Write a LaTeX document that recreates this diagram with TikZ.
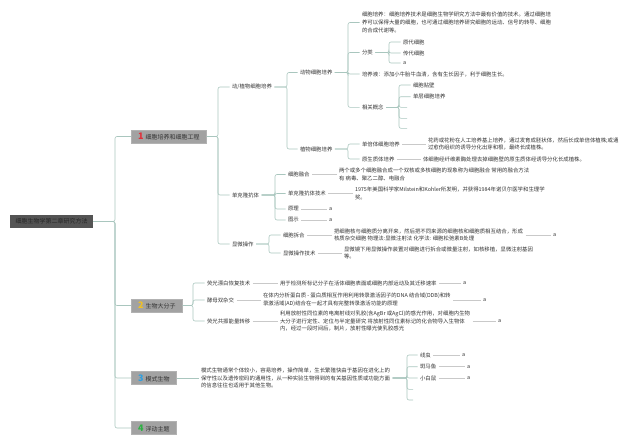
\documentclass[tikz,border=0pt]{standalone}
\usepackage{fontspec}
\setmainfont{Noto Sans CJK SC}
\definecolor{rootgray}{HTML}{545454}
\definecolor{topicgray}{HTML}{A2A2A2}
\definecolor{linkcol}{HTML}{A9C6BE}
\definecolor{tailcol}{HTML}{C9C9C9}
\definecolor{txtcol}{HTML}{333333}
\definecolor{numred}{HTML}{E0303A}
\definecolor{numyellow}{HTML}{F2C121}
\definecolor{numblue}{HTML}{2F9FE0}
\definecolor{numgreen}{HTML}{2DB043}
\newcommand\topicnum[2]{{\fontsize{9}{9}\selectfont\bfseries\color{#1}#2}\hspace{2pt}}
\newcommand\fork[3]{\foreach \c in {#3} \draw[link] (#1.east) -- (#1.east -| #2) |- (\c.west);}
\begin{document}
\begin{tikzpicture}[x=1pt,y=-1pt,
  root/.style={fill=rootgray,text=black!85,font=\fontsize{6}{7}\selectfont,inner xsep=5.5pt,minimum height=13pt,anchor=west},
  topic/.style={fill=topicgray,draw=black!30,line width=0.4pt,text=txtcol,font=\fontsize{6}{7}\selectfont,inner xsep=7pt,inner ysep=0pt,minimum height=13pt,anchor=west},
  leaf/.style={text=txtcol,font=\fontsize{5.4}{7.6}\selectfont,inner sep=0.5pt,outer sep=2pt,anchor=west,align=left},
  link/.style={draw=linkcol,line width=0.6pt,rounded corners=2pt},
  tail/.style={draw=tailcol,line width=0.6pt}]
\useasboundingbox (0,0) rectangle (640,444);
% spines
\coordinate (trunk) at (115,0);
\coordinate (s1) at (218,0);
\coordinate (s11) at (287,0);
\coordinate (s111) at (348,0);
\coordinate (s1111) at (389,0);
\coordinate (s1112) at (399,0);
\coordinate (s112) at (348,0);
\coordinate (s12) at (275,0);
\coordinate (s13) at (269,0);
\coordinate (s2) at (193,0);
\coordinate (s3) at (407,0);
% root and topics
\node[root] (root) at (10,221.5) {细胞生物学第二章研究方法};
\node[topic] (t1) at (131,136.5) {\topicnum{numred}{1}细胞培养和细胞工程};
\node[topic] (t2) at (131,305.5) {\topicnum{numyellow}{2}生物大分子};
\node[topic] (t3) at (131,378) {\topicnum{numblue}{3}模式生物};
\node[topic] (t4) at (131,428) {\topicnum{numgreen}{4}浮动主题};
% topic 1
\node[leaf] (dzp) at (229.5,87) {动/植物细胞培养};
\node[leaf] (dkl) at (229.5,195) {单克隆抗体};
\node[leaf] (xwcz) at (229.5,244) {显微操作};
\node[leaf] (dw) at (297.5,72.5) {动物细胞培养};
\node[leaf] (zw) at (297.5,149) {植物细胞培养};
\node[leaf] (xbpy) at (359.5,22.5) {细胞培养：细胞培养技术是细胞生物学研究方法中最有价值的技术。通过细胞培\\养可以保得大量的细胞，也可通过细胞培养研究细胞的运动、信号的转导、细胞\\的合成代谢等。};
\node[leaf] (fl) at (359.5,52.5) {分类};
\node[leaf] (pyy) at (359.5,74) {培养液：添加小牛胎牛血清，含有生长因子，利于细胞生长。};
\node[leaf] (xggn) at (359.5,107.3) {相关概念};
\node[leaf] (ydxb) at (400.5,42) {原代细胞};
\node[leaf] (cdxb) at (400.5,53) {传代细胞};
\node[leaf] (fla) at (400.5,63) {a};
\node[leaf] (xbtb) at (410.5,85) {细胞贴壁};
\node[leaf] (dcxb) at (410.5,96.7) {单层细胞培养};
\node[leaf] (xgk1) at (407,107.3) {};
\node[leaf] (xgk2) at (407,118.3) {};
\node[leaf] (xgk3) at (407,128.3) {};
\node[leaf] (dbt) at (359.5,144) {单倍体细胞培养};
\node[leaf] (ysz) at (359.5,159) {原生质体培养};
\node[leaf] (dbtp) at (425.5,144) {花药或花粉在人工培养基上培养，通过发育成胚状体，然后长成单倍体植株;或通\\过愈伤组织的诱导分化出芽和根，最终长成植株。};
\node[leaf] (yszp) at (420.5,159) {体细胞经纤维素酶处理去掉细胞壁的原生质体经诱导分化长成植株。};
\node[leaf] (xbrh) at (285.5,174.5) {细胞融合};
\node[leaf] (dkljs) at (285.5,193.5) {单克隆抗体技术};
\node[leaf] (yl) at (285.5,209) {原理};
\node[leaf] (ts) at (285.5,220) {图示};
\node[leaf] (xbrhp) at (336.5,174.5) {两个或多个细胞融合成一个双核或多核细胞的现象称为细胞融合 常用的融合方法\\有 病毒、聚乙二醇、电融合};
\node[leaf] (dkljsp) at (352.5,193.5) {1975年美国科学家Milstein和Kohler所发明，并获得1984年诺贝尔医学和生理学\\奖。};
\node[leaf] (yla) at (326.5,209) {a};
\node[leaf] (tsa) at (326.5,220) {a};
\node[leaf] (xbch) at (280.5,235) {细胞拆合};
\node[leaf] (xwczjs) at (280.5,253) {显微操作技术};
\node[leaf] (xbchp) at (331.5,235) {把细胞核与细胞质分离开来，然后把不同来源的细胞核和细胞质相互结合，形成\\核质杂交细胞 物理法:显微注射法 化学法: 细胞松弛素B处理};
\node[leaf] (xbcha) at (550.5,235) {a};
\node[leaf] (xwczjsp) at (341.5,253) {显微镜下用显微操作装置对细胞进行拆合或微量注射，如核移植，显微注射基因\\等。};
% topic 2
\node[leaf] (ygpb) at (204.5,283) {荧光漂白恢复技术};
\node[leaf] (jmszj) at (204.5,300) {酵母双杂交};
\node[leaf] (yggz) at (204.5,321) {荧光共振能量转移};
\node[leaf] (ygpbp) at (277.5,283) {用于检测所标记分子在活体细胞表面或细胞内部运动及其迁移速率};
\node[leaf] (jmszjp) at (260.5,300) {在体内分析蛋白质 - 蛋白质相互作用利用转录激活因子的DNA 结合域(DDB)和转\\录激活域(AD)结合在一起才具有完整转录激活功能的原理};
\node[leaf] (yggzp) at (277.5,321) {利用放射性同位素的电离射线对乳胶(含AgBr 或AgCl)的感光作用，对细胞内生物\\大分子进行定性、定位与半定量研究 将放射性同位素标记的化合物导入生物体\\内，经过一段时间后，制片，放射性曝光使乳胶感光};
\node[leaf] (ygpba) at (460.5,283) {a};
\node[leaf] (jmszja) at (480.5,300) {a};
\node[leaf] (yggza) at (495.5,321) {a};
% topic 3
\node[leaf] (msp) at (198.5,378) {模式生物通常个体较小，容易培养，操作简单，生长繁殖快由于基因在进化上的\\保守性以及遗传密码的通用性，从一种实验生物得到的有关基因性质或功能方面\\的信息往往也适用于其他生物。};
\node[leaf] (xc) at (417.5,355) {线虫};
\node[leaf] (bmy) at (417.5,366.7) {斑马鱼};
\node[leaf] (xbs) at (417.5,378) {小白鼠};
\node[leaf] (mk1) at (413,389.3) {};
\node[leaf] (mk2) at (413,400) {};
\node[leaf] (xca) at (459.5,355) {a};
\node[leaf] (bmya) at (464.5,366.7) {a};
\node[leaf] (xbsa) at (464.5,378) {a};
% connectors
\fork{root}{trunk}{t1,t2,t3,t4}
\fork{t1}{s1}{dzp,dkl,xwcz}
\fork{dzp}{s11}{dw,zw}
\fork{dw}{s111}{xbpy,fl,pyy,xggn}
\fork{fl}{s1111}{ydxb,cdxb,fla}
\fork{xggn}{s1112}{xbtb,dcxb,xgk1,xgk2,xgk3}
\fork{zw}{s112}{dbt,ysz}
\fork{dkl}{s12}{xbrh,dkljs,yl,ts}
\fork{xwcz}{s13}{xbch,xwczjs}
\fork{t2}{s2}{ygpb,jmszj,yggz}
\fork{msp}{s3}{xc,bmy,xbs,mk1,mk2}
\draw[link] (t3) -- (msp);
\foreach \a/\b in {dbt/dbtp,ysz/yszp,xbrh/xbrhp,dkljs/dkljsp,yl/yla,ts/tsa,xbch/xbchp,xbchp/xbcha,xwczjs/xwczjsp,ygpb/ygpbp,ygpbp/ygpba,jmszj/jmszjp,jmszjp/jmszja,yggz/yggzp,yggzp/yggza,xc/xca,bmy/bmya,xbs/xbsa}
  \draw[tail] (\a) -- (\b);
\end{tikzpicture}
\end{document}
